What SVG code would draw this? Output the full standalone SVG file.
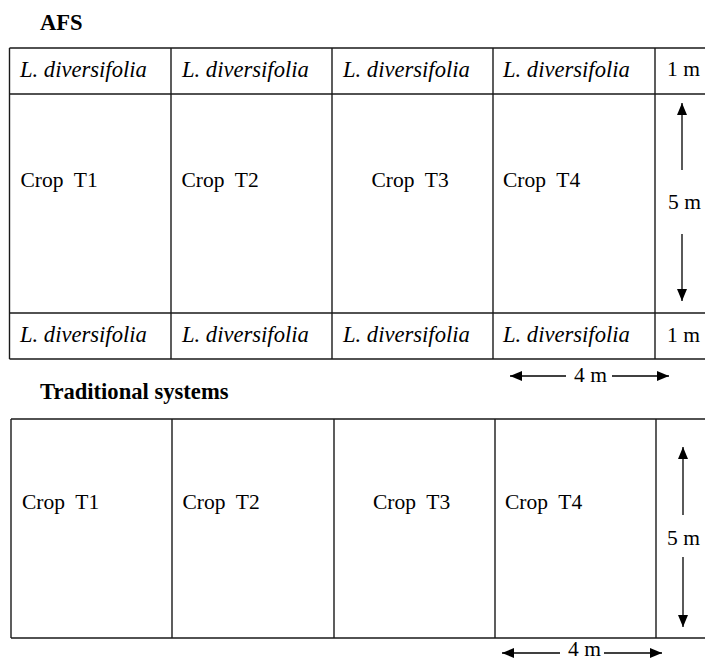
<svg xmlns="http://www.w3.org/2000/svg" width="705" height="661" viewBox="0 0 705 661" font-family="Liberation Serif, DejaVu Serif, serif">
<defs>
<style>
.ln{stroke:#1a1a1a;stroke-width:1.4;fill:none}
.ar{stroke:#000;stroke-width:1.3;fill:none}
.tx{font-family:'Liberation Serif', 'DejaVu Serif', serif;font-size:21.5px;fill:#000}
.it{font-style:italic;font-size:22.6px}
.hd{font-weight:bold;font-size:22.6px}
</style>
<marker id="ah" viewBox="0 0 12 10" refX="12" refY="5" markerWidth="12" markerHeight="10" markerUnits="userSpaceOnUse" orient="auto">
<path d="M0,0 L12,5 L0,10 Z" fill="#000"/>
</marker>
</defs>
<rect width="705" height="661" fill="#fff"/>
<text class="tx hd" x="40" y="30">AFS</text>
<text class="tx hd" x="40" y="399">Traditional systems</text>

<g id="afs-grid">
<path class="ln" d="M9.5,48 H705 M9.5,94 H705 M9.5,313 H705 M9.5,359 H705 M9.5,48 V359 M171,48 V359 M332,48 V359 M493,48 V359 M655,48 V359"/>
</g>
<g id="afs-row1">
<text class="tx it" x="20" y="77">L. diversifolia</text>
<text class="tx it" x="182" y="77">L. diversifolia</text>
<text class="tx it" x="343" y="77">L. diversifolia</text>
<text class="tx it" x="503" y="77">L. diversifolia</text>
<text class="tx" x="667" y="76">1 m</text>
</g>
<g id="afs-crops">
<text class="tx" x="20.5" y="186.5" xml:space="preserve">Crop  T1</text>
<text class="tx" x="181.5" y="186.5" xml:space="preserve">Crop  T2</text>
<text class="tx" x="371.5" y="186.5" xml:space="preserve">Crop  T3</text>
<text class="tx" x="503" y="186.5" xml:space="preserve">Crop  T4</text>
<text class="tx" x="668" y="209">5 m</text>
</g>
<g id="afs-row3">
<text class="tx it" x="20" y="342">L. diversifolia</text>
<text class="tx it" x="182" y="342">L. diversifolia</text>
<text class="tx it" x="343" y="342">L. diversifolia</text>
<text class="tx it" x="503" y="342">L. diversifolia</text>
<text class="tx" x="667" y="342">1 m</text>
</g>
<g id="afs-4m">
<text class="tx" x="574" y="382">4 m</text>
</g>

<g id="trad-grid">
<path class="ln" d="M11,419 H705 M11,638 H705 M11,419 V638 M172,419 V638 M334,419 V638 M495,419 V638 M656,419 V638"/>
</g>
<g id="trad-crops">
<text class="tx" x="22" y="509" xml:space="preserve">Crop  T1</text>
<text class="tx" x="182.5" y="509" xml:space="preserve">Crop  T2</text>
<text class="tx" x="373" y="509" xml:space="preserve">Crop  T3</text>
<text class="tx" x="505" y="509" xml:space="preserve">Crop  T4</text>
<text class="tx" x="667" y="545">5 m</text>
</g>
<g id="trad-4m">
<text class="tx" x="568" y="656">4 m</text>
</g>

<g id="connectors">
<line class="ar" x1="682" y1="170" x2="682" y2="103" marker-end="url(#ah)"/>
<line class="ar" x1="682" y1="234" x2="682" y2="301" marker-end="url(#ah)"/>
<line class="ar" x1="566" y1="376" x2="510" y2="376" marker-end="url(#ah)"/>
<line class="ar" x1="612" y1="376" x2="669" y2="376" marker-end="url(#ah)"/>
<line class="ar" x1="683" y1="515" x2="683" y2="447" marker-end="url(#ah)"/>
<line class="ar" x1="683" y1="557" x2="683" y2="627" marker-end="url(#ah)"/>
<line class="ar" x1="560" y1="653" x2="502" y2="653" marker-end="url(#ah)"/>
<line class="ar" x1="604" y1="653" x2="662" y2="653" marker-end="url(#ah)"/>
</g>
</svg>
